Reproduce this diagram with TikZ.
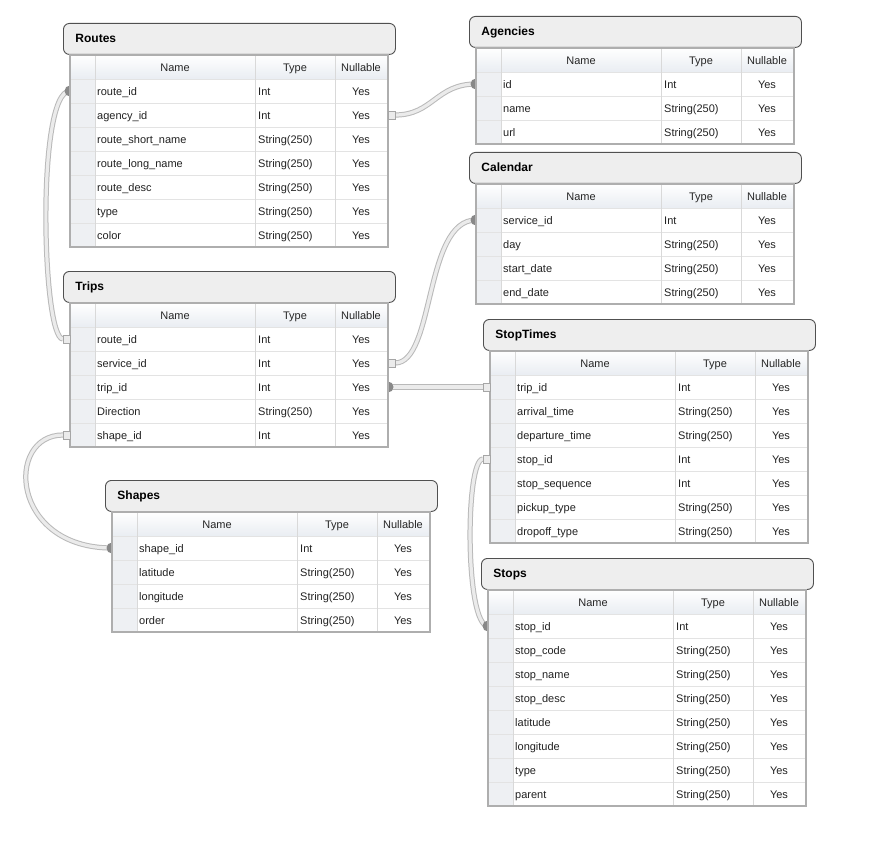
\documentclass[tikz,border=0pt]{standalone}
\usepackage{fontspec}
\setmainfont{Liberation Sans}
\pgfdeclarelayer{background}
\pgfsetlayers{background,main}
\definecolor{gutter}{HTML}{EEF0F3}
\definecolor{hdrbot}{HTML}{E9EDF2}
\definecolor{rowline}{HTML}{E3E3E3}
\definecolor{colline}{HTML}{D9D9D9}
\definecolor{frame}{HTML}{AEAEAE}
\definecolor{titlefill}{HTML}{EEEEEE}
\definecolor{titledraw}{HTML}{505050}
\definecolor{txt}{HTML}{222222}
\definecolor{tubeout}{HTML}{B9B9B9}
\definecolor{tubein}{HTML}{EBEBEB}
\definecolor{diskc}{HTML}{888888}
\tikzset{
  titlebox/.style={draw=titledraw, line width=0.9pt, fill=titlefill, rounded corners=6pt,
    minimum height=31pt, text width=308pt, inner xsep=12pt, inner ysep=0pt,
    text height=9pt, text depth=2pt,
    anchor=north west, align=left, font=\fontsize{12}{14}\selectfont\bfseries, text=black},
  cellname/.style={anchor=west, inner sep=0pt, text height=9.5pt, text depth=1pt,
    font=\fontsize{11}{13}\selectfont, text=txt},
  cellnull/.style={anchor=center, inner sep=0pt, text height=9.5pt, text depth=1pt,
    font=\fontsize{11}{13}\selectfont, text=txt},
  hdrtext/.style={cellnull, text=black!85},
  rowsep/.style={draw=rowline, line width=0.8pt},
  colsep/.style={draw=colline, line width=0.8pt},
  tableframe/.style={draw=frame, line width=1.2pt},
  tube/.style={line width=1pt, draw=tubeout, double=tubein, double distance=3.2pt},
  manyend/.style={draw=black!35, fill=black!8, line width=0.6pt, minimum width=7pt,
    minimum height=8pt, inner sep=0pt, outer sep=0pt},
  oneend/.style={fill=diskc},
}
% #1 id, #2 title, #3 left, #4 top of title, #5 number of rows, #6 rows name/type
\newcommand\erTable[6]{%
  \node[titlebox] (#1) at ({#3-7},{#4}) {#2};
  \fill[white] ({#3},{#4+32}) rectangle ({#3+318},{#4+56+24*#5});
  \shade[top color=white, bottom color=hdrbot] ({#3},{#4+32}) rectangle ({#3+318},{#4+56});
  \fill[gutter] ({#3},{#4+56}) rectangle ({#3+25},{#4+56+24*#5});
  \node[hdrtext] (#1-hname) at ({#3+105},{#4+44}) {Name};
  \node[hdrtext] (#1-htype) at ({#3+225},{#4+44}) {Type};
  \node[hdrtext] (#1-hnull) at ({#3+291},{#4+44}) {Nullable};
  \draw[rowsep] ({#3},{#4+56}) -- ({#3+318},{#4+56});
  \foreach \nm/\ty [count=\i] in {#6}{
    \node[cellname] (#1-\i) at ({#3+27},{#4+68+24*(\i-1)}) {\nm};
    \node[cellname] (#1-\i-t) at ({#3+188},{#4+68+24*(\i-1)}) {\ty};
    \node[cellnull] (#1-\i-n) at ({#3+291},{#4+68+24*(\i-1)}) {Yes};
    \coordinate (#1-\i-L) at ({#3},{#4+68+24*(\i-1)});
    \coordinate (#1-\i-R) at ({#3+318},{#4+68+24*(\i-1)});
    \draw[rowsep] ({#3},{#4+56+24*\i}) -- ({#3+318},{#4+56+24*\i});
  }
  \draw[colsep] ({#3+25},{#4+32}) -- ({#3+25},{#4+56+24*#5});
  \draw[colsep] ({#3+185},{#4+32}) -- ({#3+185},{#4+56+24*#5});
  \draw[colsep] ({#3+265},{#4+32}) -- ({#3+265},{#4+56+24*#5});
  \draw[tableframe] ({#3},{#4+32}) rectangle ({#3+318},{#4+56+24*#5});
}
\begin{document}
\begin{tikzpicture}[x=1pt,y=-1pt]
\useasboundingbox (0,0) rectangle (881,845);

\erTable{routes}{Routes}{70}{23}{7}{route\_id/Int, agency\_id/Int, route\_short\_name/String(250), route\_long\_name/String(250), route\_desc/String(250), type/String(250), color/String(250)}
\erTable{agencies}{Agencies}{476}{16}{3}{id/Int, name/String(250), url/String(250)}
\erTable{calendar}{Calendar}{476}{152}{4}{service\_id/Int, day/String(250), start\_date/String(250), end\_date/String(250)}
\erTable{trips}{Trips}{70}{271}{5}{route\_id/Int, service\_id/Int, trip\_id/Int, Direction/String(250), shape\_id/Int}
\erTable{stoptimes}{StopTimes}{490}{319}{7}{trip\_id/Int, arrival\_time/String(250), departure\_time/String(250), stop\_id/Int, stop\_sequence/Int, pickup\_type/String(250), dropoff\_type/String(250)}
\erTable{shapes}{Shapes}{112}{480}{4}{shape\_id/Int, latitude/String(250), longitude/String(250), order/String(250)}
\erTable{stops}{Stops}{488}{558}{8}{stop\_id/Int, stop\_code/String(250), stop\_name/String(250), stop\_desc/String(250), latitude/String(250), longitude/String(250), type/String(250), parent/String(250)}

% "many" ends
\node[manyend, anchor=east] (m1) at (trips-1-L) {};
\node[manyend, anchor=west] (m2) at (routes-2-R) {};
\node[manyend, anchor=west] (m3) at (trips-2-R) {};
\node[manyend, anchor=east] (m4) at (stoptimes-1-L) {};
\node[manyend, anchor=east] (m5) at (trips-5-L) {};
\node[manyend, anchor=east] (m6) at (stoptimes-4-L) {};

\begin{pgfonlayer}{background}
  \fill[white] (0,0) rectangle (881,845);
  \draw[tube] (routes-1-L) .. controls +(-34,0) and +(-21,0) .. (m1.west);
  \draw[tube] (m2.east) .. controls +(38,0) and +(-40,0) .. (agencies-1-L);
  \draw[tube] (m3.east) .. controls +(40,0) and +(-52,0) .. (calendar-1-L);
  \draw[tube] (trips-3-R) -- (m4.west);
  \draw[tube] (m5.west) .. controls +(-58,0) and +(-102,0) .. (shapes-1-L);
  \draw[tube] (m6.west) .. controls +(-18,0) and +(-23,0) .. (stops-1-L);
  \fill[oneend] (routes-1-L) circle[radius=5.5pt];
  \fill[oneend] (agencies-1-L) circle[radius=5.5pt];
  \fill[oneend] (calendar-1-L) circle[radius=5.5pt];
  \fill[oneend] (trips-3-R) circle[radius=5.5pt];
  \fill[oneend] (shapes-1-L) circle[radius=5.5pt];
  \fill[oneend] (stops-1-L) circle[radius=5.5pt];
\end{pgfonlayer}
\end{tikzpicture}
\end{document}
